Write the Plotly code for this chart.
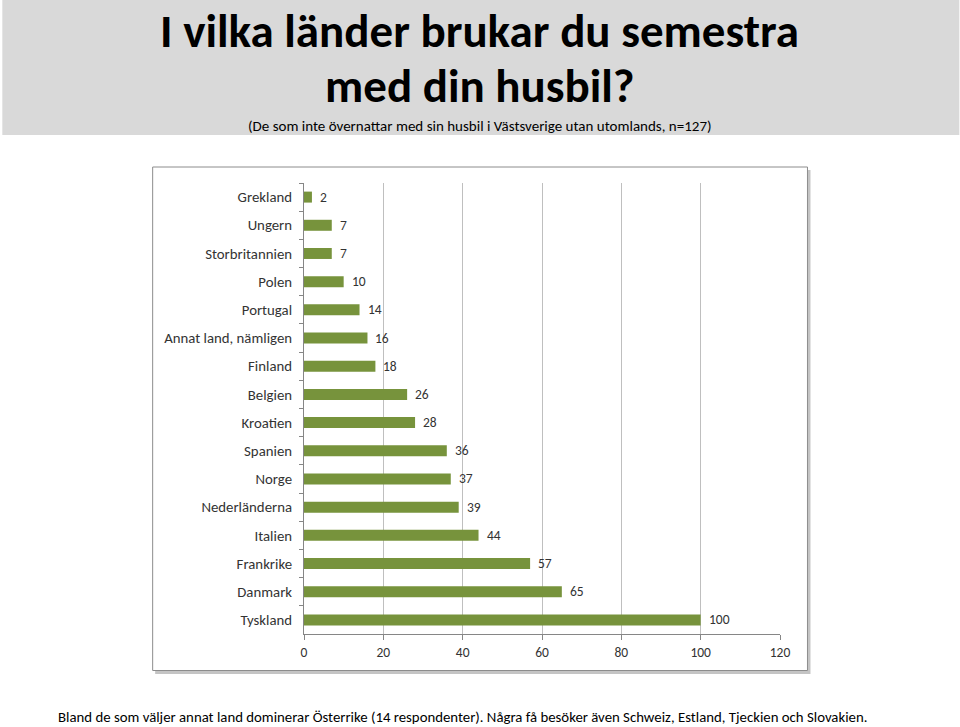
import plotly.graph_objects as go

categories = ["Grekland", "Ungern", "Storbritannien", "Polen", "Portugal",
              "Annat land, nämligen", "Finland", "Belgien", "Kroatien", "Spanien",
              "Norge", "Nederländerna", "Italien", "Frankrike", "Danmark", "Tyskland"]
values = [2, 7, 7, 10, 14, 16, 18, 26, 28, 36, 37, 39, 44, 57, 65, 100]
x_ticks = [0, 20, 40, 60, 80, 100, 120]

title_line1 = "I vilka länder brukar du semestra"
title_line2 = "med din husbil?"
subtitle = "(De som inte övernattar med sin husbil i Västsverige utan utomlands, n=127)"
footnote = ("Bland de som väljer annat land dominerar Österrike (14 respondenter). "
            "Några få besöker även Schweiz, Estland, Tjeckien och Slovakien.")

W, H = 960, 727
L, R, T, B = 304, 780.5, 183, 634  # plot area in pixels
pw, ph = R - L, B - T

def px(x):
    return (x - L) / pw

def py(y):
    return (B - y) / ph

label_font = "Carlito, Lato, 'Open Sans', sans-serif"
title_font = "Carlito, Lato, sans-serif"
text_color = "#333333"

fig = go.Figure()
fig.add_trace(go.Bar(
    x=values, y=categories, orientation="h",
    marker=dict(color="#77933C", line=dict(width=0)),
    width=0.39, hoverinfo="skip",
))

shapes = [
    # grey title band
    dict(type="rect", xref="paper", yref="paper", x0=px(2), x1=px(960), y0=py(135), y1=py(0),
         fillcolor="#D9D9D9", line=dict(width=0), layer="below"),
    # chart box shadow
    dict(type="rect", xref="paper", yref="paper", x0=px(155), x1=px(811), y0=py(674), y1=py(170),
         fillcolor="#C4C4C4", line=dict(width=0), layer="below"),
    # chart box
    dict(type="rect", xref="paper", yref="paper", x0=px(152.5), x1=px(808), y0=py(670.5), y1=py(167),
         fillcolor="white", line=dict(color="#8C8C8C", width=1), layer="below"),
]

annotations = [
    dict(text="<b>" + title_line1 + "</b>", x=px(480), y=py(31), xref="paper", yref="paper",
         showarrow=False, xanchor="center", yanchor="middle",
         font=dict(family=title_font, size=47, color="black")),
    dict(text="<b>" + title_line2 + "</b>", x=px(480), y=py(86), xref="paper", yref="paper",
         showarrow=False, xanchor="center", yanchor="middle",
         font=dict(family=title_font, size=47, color="black")),
    dict(text=subtitle, x=px(480), y=py(126), xref="paper", yref="paper",
         showarrow=False, xanchor="center", yanchor="middle",
         font=dict(family=label_font, size=15, color="black")),
    dict(text=footnote, x=px(462.5), y=py(717), xref="paper", yref="paper",
         showarrow=False, xanchor="center", yanchor="middle",
         font=dict(family=label_font, size=14.8, color="black")),
]

# value labels next to each bar (positioned through the data axes)
for cat, val in zip(categories, values):
    annotations.append(dict(
        x=val, y=cat, xref="x", yref="y", text=str(val), showarrow=False,
        xanchor="left", yanchor="middle", xshift=6,
        font=dict(family=label_font, size=13.5, color=text_color),
    ))

fig.update_layout(
    width=W, height=H,
    margin=dict(l=L, r=W - R, t=T, b=H - B, pad=0),
    paper_bgcolor="white", plot_bgcolor="white",
    showlegend=False,
    shapes=shapes, annotations=annotations,
    xaxis=dict(range=[0, 120], tickvals=x_ticks, ticktext=[str(t) for t in x_ticks],
               showgrid=True, gridcolor="#BFBFBF", gridwidth=1,
               showline=True, linecolor="#868686", linewidth=1,
               ticks="outside", ticklen=5, tickcolor="#868686",
               ticklabelstandoff=1,
               tickfont=dict(family=label_font, size=13.5, color=text_color),
               zeroline=False, fixedrange=True),
    yaxis=dict(autorange="reversed", type="category",
               showline=True, linecolor="#868686", linewidth=1,
               ticks="outside", ticklen=4, tickcolor="#868686", tickson="boundaries",
               ticklabelstandoff=8,
               showgrid=False,
               tickfont=dict(family=label_font, size=14.8, color=text_color),
               fixedrange=True),
)

fig.write_html("out.html", config={"displayModeBar": False},
               post_script="document.body.style.margin='0';document.body.style.overflow='hidden';")
